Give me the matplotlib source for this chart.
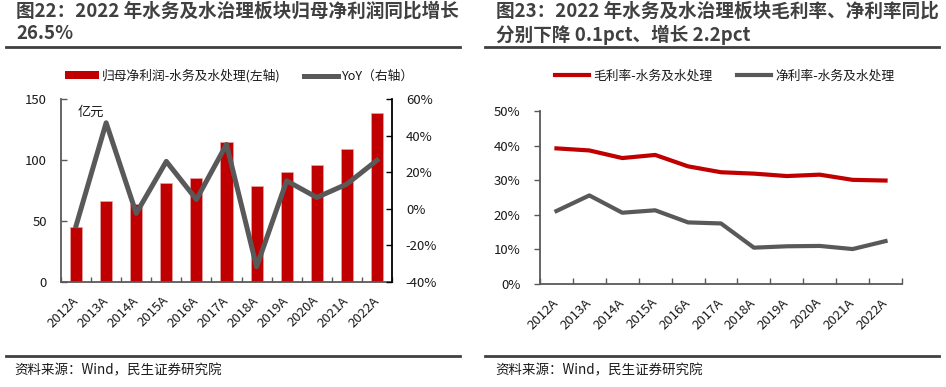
import matplotlib
matplotlib.use("Agg")
import matplotlib.pyplot as plt
from matplotlib.lines import Line2D
from matplotlib.patches import Patch
import numpy as np

plt.rcParams['font.family'] = ['Noto Sans CJK SC', 'DejaVu Sans']

years = ["2012A", "2013A", "2014A", "2015A", "2016A", "2017A", "2018A", "2019A", "2020A", "2021A", "2022A"]
net_profit = [45, 66.4, 64, 81, 85, 114.5, 78.5, 90.5, 95.8, 109, 138.5]
yoy = [-9.3, 47.0, -2.5, 25.9, 5.1, 35.2, -31.7, 15.3, 6.2, 13.5, 26.5]
gross_margin = [39.2, 38.6, 36.4, 37.3, 34.0, 32.3, 31.9, 31.2, 31.6, 30.1, 29.9]
net_margin = [21.1, 25.6, 20.6, 21.3, 17.8, 17.5, 10.5, 10.9, 11.0, 10.1, 12.4]

left_ticks = [0, 50, 100, 150]
right_ticks = [-40, -20, 0, 20, 40, 60]
pct_ticks = [0, 10, 20, 30, 40, 50]

RED = "#C00000"
GRAY = "#595959"
TXT = "#1a1a1a"
TITLE_C = "#404040"
W, H = 946, 387

fig = plt.figure(figsize=(W / 100, H / 100), dpi=100)

def fx(px):
    return px / W

def fy(py):
    return 1 - py / H

# ---------- titles and separators ----------
fig.text(fx(16), fy(2), "图22：2022 年水务及水治理板块归母净利润同比增长\n26.5%",
         ha="left", va="top", fontsize=13.4, fontweight="bold", color=TITLE_C, linespacing=1.2)
fig.text(fx(496), fy(2), "图23：2022 年水务及水治理板块毛利率、净利率同比\n分别下降 0.1pct、增长 2.2pct",
         ha="left", va="top", fontsize=13.4, fontweight="bold", color=TITLE_C, linespacing=1.2)
for x0, x1 in [(6, 460), (485, 939)]:
    fig.add_artist(Line2D([fx(x0), fx(x1)], [fy(47), fy(47)], color=TITLE_C, lw=2))
    fig.add_artist(Line2D([fx(x0), fx(x1)], [fy(356), fy(356)], color=TITLE_C, lw=2))
fig.text(fx(14), fy(370), "资料来源：Wind，民生证券研究院", ha="left", va="center", fontsize=9.7, color=TXT)
fig.text(fx(495), fy(370), "资料来源：Wind，民生证券研究院", ha="left", va="center", fontsize=9.7, color=TXT)

# ---------- left chart ----------
ax1 = fig.add_axes([fx(61), fy(282), fx(392 - 61), (282 - 99) / H])
x = np.arange(len(years))
ax1.bar(x, net_profit, width=0.4, color=RED, edgecolor="#E9A3A3", linewidth=0.5, zorder=2)
ax1.set_xlim(-0.5, len(years) - 0.5)
ax1.set_ylim(0, 150)
ax1.set_yticks(left_ticks)
ax1.set_yticklabels([str(t) for t in left_ticks])
ax1.set_xticks(x)
ax1.set_xticklabels(years, rotation=45, ha="right", va="center", rotation_mode="anchor")
ax1.set_xticks(np.arange(-0.5, len(years), 1.0), minor=True)
ax1.tick_params(axis="x", which="major", length=0, pad=12, labelsize=9.5, labelcolor=TXT)
ax1.tick_params(axis="x", which="minor", length=3.5, direction="in", color=GRAY, width=1)
ax1.tick_params(axis="y", direction="in", length=4, pad=10, labelsize=9.5, labelcolor=TXT, color=GRAY, width=1)
for s in ["top", "right"]:
    ax1.spines[s].set_visible(False)
for s in ["left", "bottom"]:
    ax1.spines[s].set_color(GRAY)
    ax1.spines[s].set_linewidth(1.3)
ax1.text(0.05, 0.93, "亿元", transform=ax1.transAxes, fontsize=9.5, color=TXT, ha="left", va="center")

ax2 = ax1.twinx()
ax2.plot(x, yoy, color=GRAY, lw=3.6, zorder=3)
ax2.set_ylim(-40, 60)
ax2.set_yticks(right_ticks)
ax2.set_yticklabels([f"{t}%" for t in right_ticks])
ax2.tick_params(axis="y", direction="in", length=4, pad=10, labelsize=9.5, labelcolor=TXT, color="black", width=1)
for s in ["top", "left", "bottom"]:
    ax2.spines[s].set_visible(False)
ax2.spines["right"].set_color("black")
ax2.spines["right"].set_linewidth(1.3)

handles1 = [Patch(facecolor=RED, edgecolor="none"), Line2D([], [], color=GRAY, lw=3.6)]
fig.legend(handles1, ["归母净利润-水务及水处理(左轴)", "YoY（右轴）"],
           loc="center left", bbox_to_anchor=(fx(53), fy(76)), ncol=2, frameon=False,
           fontsize=9.2, handlelength=2.7, handleheight=0.55, handletextpad=0.25,
           columnspacing=1.8, labelcolor=TXT)

# ---------- right chart ----------
ax3 = fig.add_axes([fx(540), fy(284), fx(902 - 540), (284 - 111) / H])
ax3.plot(x, gross_margin, color=RED, lw=3, label="毛利率-水务及水处理", zorder=3)
ax3.plot(x, net_margin, color=GRAY, lw=3, label="净利率-水务及水处理", zorder=3)
ax3.set_xlim(-0.5, len(years) - 0.5)
ax3.set_ylim(0, 50)
ax3.set_yticks(pct_ticks)
ax3.set_yticklabels([f"{t}%" for t in pct_ticks])
ax3.set_xticks(x)
ax3.set_xticklabels(years, rotation=45, ha="right", va="center", rotation_mode="anchor")
ax3.set_xticks(np.arange(-0.5, len(years), 1.0), minor=True)
ax3.tick_params(axis="x", which="major", length=0, pad=12, labelsize=9.5, labelcolor=TXT)
ax3.tick_params(axis="x", which="minor", length=4, direction="in", color=GRAY, width=1)
ax3.tick_params(axis="y", direction="out", length=4, pad=10, labelsize=9.5, labelcolor=TXT, color=GRAY, width=1)
for s in ["top", "right"]:
    ax3.spines[s].set_visible(False)
for s in ["left", "bottom"]:
    ax3.spines[s].set_color(GRAY)
    ax3.spines[s].set_linewidth(1.3)

fig.legend(loc="center left", bbox_to_anchor=(fx(543), fy(76)), ncol=2, frameon=False,
           handles=ax3.get_lines(), fontsize=9.2, handlelength=2.7, handletextpad=0.35,
           columnspacing=1.9, labelcolor=TXT)

fig.savefig("out.png", dpi=100)
